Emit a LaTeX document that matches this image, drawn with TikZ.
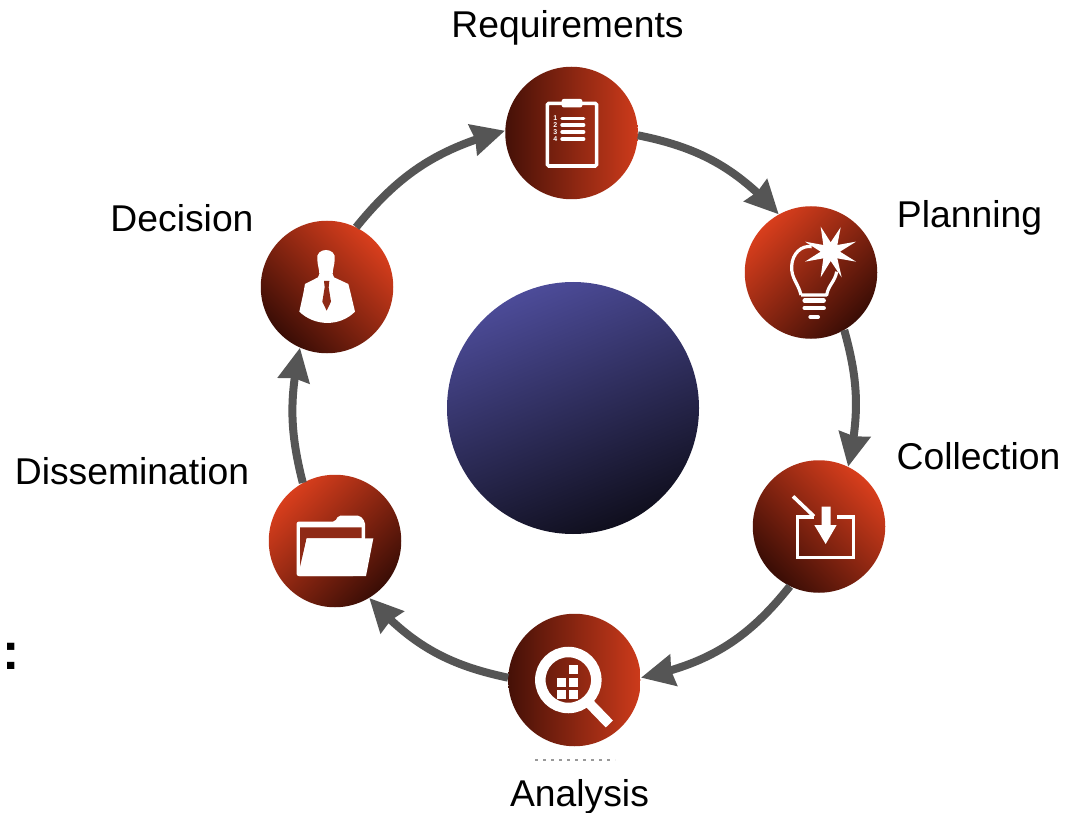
\documentclass[tikz,border=0pt]{standalone}
\usepackage{fontspec}
\setmainfont{Liberation Sans}
\usetikzlibrary{arrows.meta,shadings,bending}
\definecolor{hot}{HTML}{E8431F}
\definecolor{deep}{HTML}{2A0803}
\definecolor{inkred}{HTML}{8F2A16}
\definecolor{flowgray}{HTML}{555555}
\definecolor{bluetop}{HTML}{504FA0}
\definecolor{bluebot}{HTML}{0C0B16}
\pgfdeclarehorizontalshading{redflat}{100bp}{color(0bp)=(deep); color(15bp)=(deep); color(85bp)=(hot); color(100bp)=(hot)}
\pgfdeclarehorizontalshading{reddiag}{100bp}{color(0bp)=(deep); color(20bp)=(deep); color(80bp)=(hot); color(100bp)=(hot)}
\pgfdeclarehorizontalshading{bluegrad}{100bp}{color(0bp)=(bluebot); color(22bp)=(bluebot); color(78bp)=(bluetop); color(100bp)=(bluetop)}
\tikzset{
  stage/.style={circle,minimum size=132.5pt,inner sep=0pt,shading=reddiag},
  stageflat/.style={circle,minimum size=132.5pt,inner sep=0pt,shading=redflat,shading angle=0},
  hub/.style={circle,minimum size=252pt,inner sep=0pt,shading=bluegrad,shading angle=112},
  flow/.style={draw=flowgray,line width=8pt,-{Stealth[length=33pt,width=31pt,inset=2pt,flex=0.6]}},
  lab/.style={inner sep=0pt,font=\fontsize{37.3}{40}\selectfont,text=black},
  icon/.style={x=0.33333pt,y=-0.33333pt},
  numeral/.style={inner sep=0pt,text=white,font=\fontsize{7}{7}\selectfont\bfseries},
}
\begin{document}
\begin{tikzpicture}[x=1pt,y=-1pt]
\useasboundingbox (0,0) rectangle (1074,813);
\fill[white] (0,0) rectangle (1074,813);

\node[hub] (center) at (573,408) {};
\node[stageflat] (req) at (571.5,133) {};
\node[stage,shading angle=135] (plan) at (811,272.5) {};
\node[stage,shading angle=45] (coll) at (819,526.5) {};
\node[stageflat] (ana) at (574.5,680) {};
\node[stage,shading angle=135] (diss) at (335,541) {};
\node[stage,shading angle=45] (dec) at (327,287) {};

\draw[flow] (req.-2) to[bend left=18] (plan.119);
\draw[flow] (plan.-60) to[bend left=14] (coll.64);
\draw[flow] (coll.-116) to[bend left=20] (ana.2);
\draw[flow] (ana.178) to[bend left=18] (diss.-59);
\draw[flow] (diss.119) to[bend left=13] (dec.-114);
\draw[flow] (dec.64) to[bend left=18] (req.178);

\node[lab] (lreq) at (567.5,28) {Requirements};
\node[lab] (lplan) at (969.5,218) {Planning};
\node[lab] (lcoll) at (978.5,456) {Collection};
\node[lab] (lana) at (579.5,797) {Analysis};
\node[lab] (ldiss) at (132,471) {Dissemination};
\node[lab] (ldec) at (182,218) {Decision};
\node[inner sep=0pt,font=\fontsize{52}{56}\selectfont\bfseries] (colon) at (11.5,656) {:};

% remnant under the Analysis circle
\draw[gray!80,line width=1.2pt,dash pattern=on 3pt off 5pt] (535,760) -- (615,760);

% clipboard
\begin{scope}[shift={(490,50)},icon]
  \draw[white,line width=3.6pt,rounded corners=1.5pt] (172,160) rectangle (320,348);
  \fill[white,rounded corners=2pt] (215,147) rectangle (277,172);
  \foreach \yy in {205,225,246,267}
    \draw[white,line width=3.4pt,line cap=round] (216,\yy) -- (281,\yy);
  \node[numeral] (n1) at (196,205) {1};
  \node[numeral] (n2) at (196,225) {2};
  \node[numeral] (n3) at (196,246) {3};
  \node[numeral] (n4) at (196,267) {4};
\end{scope}

% bulb
\begin{scope}[shift={(730,190)},icon]
  \draw[white,line width=3.2pt,line join=round]
    (213,315) .. controls (205,280) and (183,265) .. (185,228)
    .. controls (187,190) and (215,165) .. (245,170);
  \draw[white,line width=3.2pt,line join=round]
    (320,245) .. controls (315,275) and (295,285) .. (290,315) -- (213,315);
  \fill[white] (272,110) -- (302,157) -- (332,112) -- (322,165) -- (378,155) -- (330,185)
    -- (378,215) -- (322,205) -- (335,262) -- (302,213) -- (272,262) -- (280,205)
    -- (225,215) -- (272,185) -- (225,155) -- (280,165) -- cycle;
  \draw[white,line width=4.4pt,line cap=round] (224,332) -- (281,332);
  \draw[white,line width=4.4pt,line cap=round] (224,354) -- (281,354);
  \draw[white,line width=4pt,line cap=round] (241,381) -- (264,381);
\end{scope}

% collection tray
\begin{scope}[shift={(740,450)},icon]
  \draw[white,line width=3.2pt,line join=miter] (222,201) -- (172,201) -- (172,323) -- (341,323) -- (341,201) -- (290,201);
  \draw[white,line width=3.6pt] (159,139) -- (222,199);
  \fill[white] (245,170) -- (272,170) -- (272,225) -- (290,225) -- (257,282) -- (223,225) -- (245,225) -- cycle;
\end{scope}

% magnifier
\begin{scope}[shift={(490,600)},icon]
  \draw[white,line width=10.5pt] (235,240) circle[radius=84];
  \draw[white,line width=10pt] (298,310) -- (358,372);
  \fill[white] (238,195) rectangle (265,222);
  \fill[white] (202,233) rectangle (228,260);
  \fill[white] (238,233) rectangle (265,260);
  \fill[white] (202,270) rectangle (228,297);
  \fill[white] (238,270) rectangle (265,297);
\end{scope}

% folder
\begin{scope}[shift={(255,470)},icon]
  \fill[white,rounded corners=2pt] (125,155) -- (240,155) -- (250,137) -- (315,137) -- (330,155) -- (330,210) -- (300,318) -- (125,318) -- cycle;
  \fill[inkred] (135,172) -- (320,172) -- (320,205) -- (155,205) -- (135,290) -- cycle;
  \fill[white] (155,205) -- (355,205) -- (333,318) -- (133,318) -- cycle;
\end{scope}

% person
\begin{scope}[shift={(250,210)},icon]
  \fill[white] (202,150) .. controls (194,110) and (262,110) .. (254,150)
    .. controls (253,168) and (248,178) .. (248,192) -- (252,202) -- (295,222)
    -- (302,250) -- (315,305) .. controls (270,350) and (195,350) .. (148,305)
    -- (160,250) -- (165,222) -- (204,202) -- (208,192)
    .. controls (208,178) and (203,168) .. (202,150) -- cycle;
  \fill[inkred] (222,213) -- (238,213) -- (236,232) -- (243,275) -- (230,302) -- (217,275) -- (224,232) -- cycle;
\end{scope}
\end{tikzpicture}
\end{document}
